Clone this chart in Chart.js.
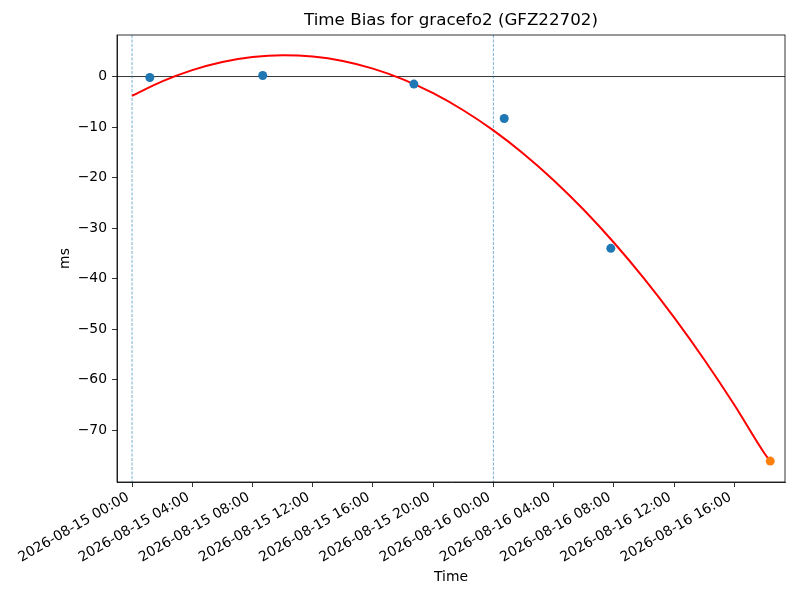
<!DOCTYPE html>
<html>
<head>
<meta charset="utf-8">
<title>Time Bias for gracefo2 (GFZ22702)</title>
<script src="https://cdn.jsdelivr.net/npm/chart.js@4"></script>
<style>
  html, body { margin: 0; padding: 0; background: #fff; }
  #wrap { width: 800px; height: 600px; }
</style>
</head>
<body>
<div id="wrap"><canvas id="biasChart" width="800" height="600"></canvas></div>
<script>
// time is in hours since 2026-08-15 00:00
const tickHours = [0, 4, 8, 12, 16, 20, 24, 28, 32, 36, 40];
const tickLabels = [
  '2026-08-15 00:00', '2026-08-15 04:00', '2026-08-15 08:00', '2026-08-15 12:00',
  '2026-08-15 16:00', '2026-08-15 20:00', '2026-08-16 00:00', '2026-08-16 04:00',
  '2026-08-16 08:00', '2026-08-16 12:00', '2026-08-16 16:00'
];
const yTicks = [0, -10, -20, -30, -40, -50, -60, -70];

// measured biases
const obsHours = [1.18, 8.68, 18.72, 24.72, 31.80];
const obsBias = [-0.2, 0.2, -1.5, -8.3, -34.0];

// predicted point
const predHours = [42.39];
const predBias = [-76.1];

// fitted curve
const fitHours = [0, 2, 4, 6, 8, 10, 12, 14, 16, 18, 20, 22, 24, 26, 28, 30, 32, 34, 36, 38, 40, 42, 42.39];
const fitBias = [-3.8, -0.95, 1.27, 2.88, 3.86, 4.22, 3.96, 3.08, 1.57, -0.55, -3.3, -6.67,
  -10.66, -15.27, -20.51, -26.36, -32.84, -39.94, -47.66, -55.99, -64.96, -74.55, -76.1];

// vertical markers
const markerHours = [0, 24];

const titleText = 'Time Bias for gracefo2 (GFZ22702)';

function toPoints(xs, ys) {
  return xs.map((x, i) => ({ x: x, y: ys[i] }));
}

const extras = {
  id: 'extras',
  beforeDatasetsDraw(chart) {
    const { ctx, chartArea, scales } = chart;
    ctx.save();
    // zero line
    const y0 = scales.y.getPixelForValue(0);
    ctx.strokeStyle = '#000';
    ctx.lineWidth = 0.8;
    ctx.beginPath();
    ctx.moveTo(chartArea.left, y0);
    ctx.lineTo(chartArea.right, y0);
    ctx.stroke();
    // dashed markers
    ctx.strokeStyle = '#1f77b4';
    ctx.lineWidth = 0.6;
    ctx.setLineDash([3, 1.5]);
    markerHours.forEach((h) => {
      const x = scales.x.getPixelForValue(h);
      ctx.beginPath();
      ctx.moveTo(x, chartArea.top);
      ctx.lineTo(x, chartArea.bottom);
      ctx.stroke();
    });
    ctx.restore();
  },
  afterDraw(chart) {
    const { ctx, chartArea } = chart;
    ctx.save();
    ctx.strokeStyle = '#000';
    ctx.lineWidth = 0.8;
    ctx.strokeRect(chartArea.left, chartArea.top, chartArea.right - chartArea.left, chartArea.bottom - chartArea.top);
    ctx.fillStyle = '#000';
    ctx.font = '16.7px "DejaVu Sans"';
    ctx.textAlign = 'center';
    ctx.textBaseline = 'middle';
    ctx.fillText(titleText, (chartArea.left + chartArea.right) / 2, 21);
    ctx.restore();
  }
};

Chart.defaults.font.family = '"DejaVu Sans", sans-serif';
Chart.defaults.font.size = 13.9;
Chart.defaults.color = '#000';

new Chart(document.getElementById('biasChart'), {
  type: 'scatter',
  data: {
    datasets: [
      {
        label: 'Measured',
        data: toPoints(obsHours, obsBias),
        backgroundColor: '#1f77b4',
        borderColor: '#1f77b4',
        pointRadius: 4.5,
        borderWidth: 0,
      },
      {
        label: 'Predicted',
        data: toPoints(predHours, predBias),
        backgroundColor: '#ff7f0e',
        borderColor: '#ff7f0e',
        pointRadius: 4.5,
        borderWidth: 0,
      },
      {
        label: 'Fit',
        data: toPoints(fitHours, fitBias),
        showLine: true,
        borderColor: '#ff0000',
        borderWidth: 2,
        pointRadius: 0,
        tension: 0.4,
        cubicInterpolationMode: 'monotone',
      },
    ],
  },
  options: {
    responsive: false,
    animation: false,
    devicePixelRatio: 1,
    layout: { padding: { top: 35, right: 15, left: 0, bottom: 0 } },
    plugins: {
      legend: { display: false },
      tooltip: { enabled: false },
      title: { display: false },
    },
    scales: {
      x: {
        type: 'linear',
        min: -1.0,
        max: 43.37,
        afterBuildTicks: (axis) => {
          axis.ticks = tickHours.map((v) => ({ value: v }));
        },
        afterFit: (axis) => {
          axis.height = 118;
        },
        ticks: {
          minRotation: 30,
          maxRotation: 30,
          padding: 2,
          labelOffset: -4,
          autoSkip: false,
          callback: (value) => tickLabels[tickHours.indexOf(value)],
        },
        grid: {
          drawOnChartArea: false,
          drawTicks: true,
          tickLength: 5,
          color: '#000',
          lineWidth: 0.8,
        },
        border: { display: true, color: '#000', width: 0.8 },
        title: {
          display: true,
          text: 'Time',
          padding: { top: 0, bottom: 14.6 },
        },
      },
      y: {
        type: 'linear',
        min: -80.24,
        max: 8.22,
        afterBuildTicks: (axis) => {
          axis.ticks = yTicks.map((v) => ({ value: v }));
        },
        afterFit: (axis) => {
          axis.width = 117;
        },
        ticks: {
          padding: 5,
          callback: (value) => String(value).replace('-', '\u2212'),
        },
        grid: {
          drawOnChartArea: false,
          drawTicks: true,
          tickLength: 5,
          color: '#000',
          lineWidth: 0.8,
        },
        border: { display: true, color: '#000', width: 0.8 },
        title: {
          display: true,
          text: 'ms',
          padding: { top: 56.6, bottom: 0 },
        },
      },
    },
  },
  plugins: [extras],
});
</script>
</body>
</html>
